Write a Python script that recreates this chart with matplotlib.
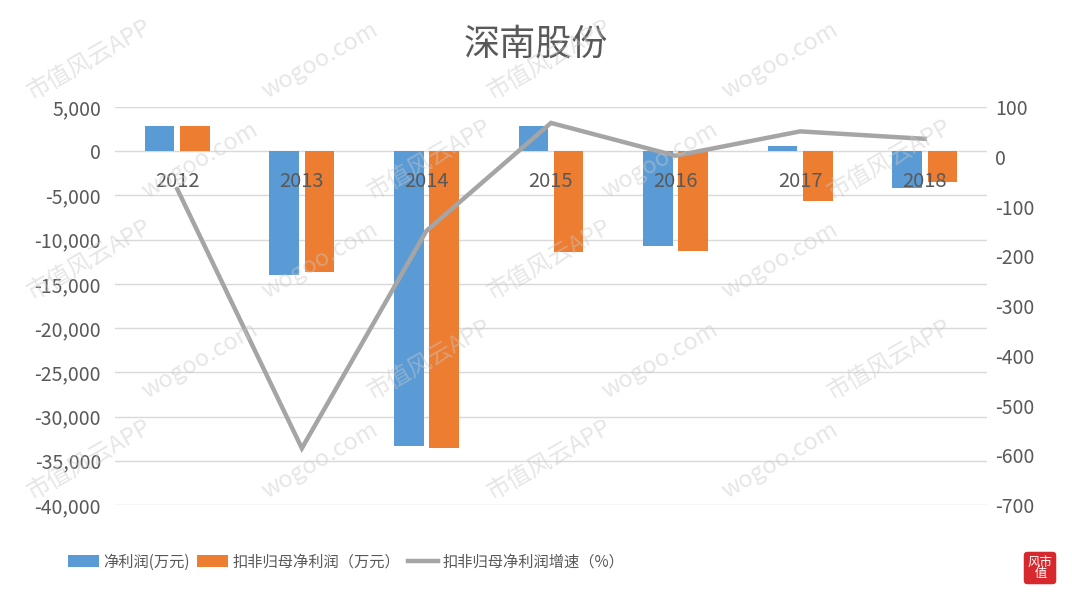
import numpy as np
import matplotlib
matplotlib.use('Agg')
import matplotlib.pyplot as plt
from matplotlib.patches import Patch
from matplotlib.lines import Line2D

plt.rcParams['font.family'] = ['Noto Sans CJK SC', 'DejaVu Sans']

# data
years = ['2012', '2013', '2014', '2015', '2016', '2017', '2018']
net_profit = [2820, -14000, -33300, 2830, -10680, 630, -4150]          # 净利润(万元)
deducted_profit = [2820, -13600, -33600, -11420, -11240, -5590, -3440]  # 扣非归母净利润（万元）
growth = [-65, -586, -149, 68, 2, 51, 36]                               # 扣非归母净利润增速（%）

left_ticks = list(range(5000, -40001, -5000))
right_ticks = list(range(100, -701, -100))

blue = '#5b9bd5'
orange = '#ed7d31'
gray_line = '#a5a5a5'
text_col = '#595959'
grid_col = '#d9d9d9'

W, H = 1072, 601
fig = plt.figure(figsize=(W / 100, H / 100), dpi=100)
ax = fig.add_axes([115 / W, 1 - 505 / H, (987 - 115) / W, (505 - 107) / H])

x = np.arange(len(years))
bw = 0.237
ax.bar(x - 0.142, net_profit, bw, color=blue, zorder=2)
ax.bar(x + 0.142, deducted_profit, bw, color=orange, zorder=2)

ax.set_xlim(-0.5, len(years) - 0.5)
ax.set_ylim(-40000, 5000)
ax.set_yticks(left_ticks)
ax.set_yticklabels([f'{v:,}' for v in left_ticks])
ax.set_xticks([])
ax.grid(axis='y', color=grid_col, linewidth=1, zorder=0)
for s in ax.spines.values():
    s.set_visible(False)
ax.tick_params(axis='y', length=0, pad=10, labelsize=14, labelcolor=text_col)

# category labels sit just under the zero line
for i, yr in enumerate(years):
    ax.annotate(yr, xy=(i, 0), xytext=(0, -20), textcoords='offset pixels',
                ha='center', va='top', fontsize=14.5, color=text_col, zorder=3)

ax2 = ax.twinx()
ax2.plot(x, growth, color=gray_line, linewidth=3.2, solid_joinstyle='miter', zorder=4)
ax2.set_ylim(-700, 100)
ax2.set_yticks(right_ticks)
ax2.set_yticklabels([str(v) for v in right_ticks])
for s in ax2.spines.values():
    s.set_visible(False)
ax2.tick_params(axis='y', length=0, pad=6, labelsize=14, labelcolor=text_col)

fig.text(536 / W, 1 - 45 / H, '深南股份', ha='center', va='center',
         fontsize=26, color=text_col)

handles = [Patch(facecolor=blue), Patch(facecolor=orange),
           Line2D([0], [0], color=gray_line, linewidth=3.2)]
labels = ['净利润(万元)', '扣非归母净利润（万元）', '扣非归母净利润增速（%）']
fig.legend(handles, labels, loc='center left', bbox_to_anchor=(68 / W, 1 - 562 / H),
           ncol=3, frameon=False, fontsize=11, handlelength=2.0, handleheight=0.8,
           handletextpad=0.3, columnspacing=0.5, borderpad=0, borderaxespad=0,
           labelcolor=text_col)

# faint watermark pattern, kept inside the picture
marks = ['市值风云APP', 'wogoo.com']
for r, yy in enumerate(np.arange(60, 560, 100)):
    for c, xx in enumerate(np.arange(90 + (r % 2) * 110, 1000, 230)):
        fig.text(xx / W, 1 - yy / H, marks[(r + c) % 2], rotation=30,
                 fontsize=17, color='#c8c8c8', alpha=0.45, ha='center', va='center',
                 zorder=10)

# little red badge bottom right
fig.text(1040 / W, 1 - 568 / H, '风市\n 值', ha='center', va='center', fontsize=9,
         color='white', linespacing=0.9,
         bbox=dict(boxstyle='round,pad=0.3', facecolor='#d6282d', edgecolor='none'))

fig.savefig('out.png', dpi=100)
